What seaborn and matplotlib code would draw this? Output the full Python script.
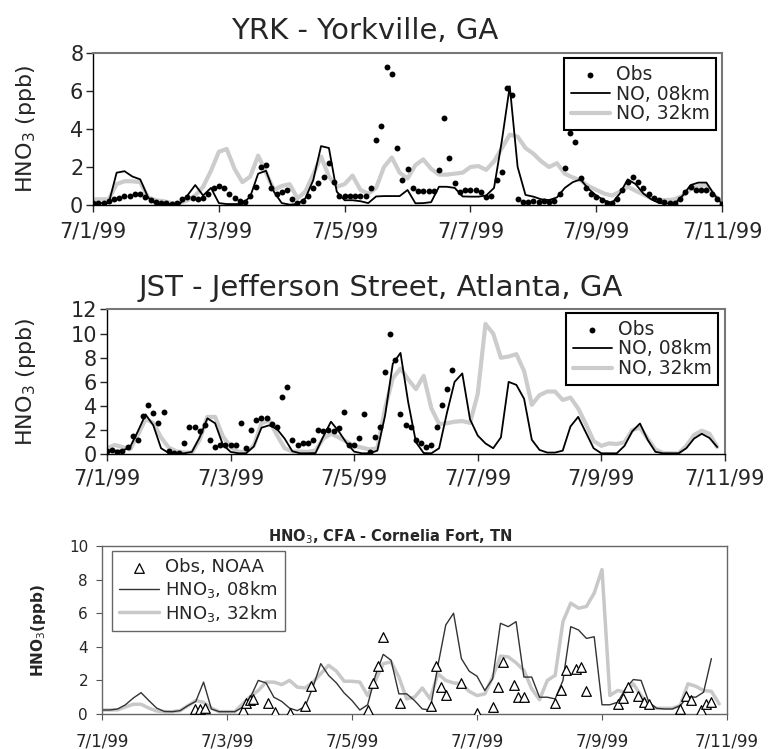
import numpy as np
import matplotlib
matplotlib.use('Agg')
import matplotlib.pyplot as plt
import seaborn as sns

# x axis: days since 7/1/99
tick_days = [0, 2, 4, 6, 8, 10]
tick_labels = ['7/1/99', '7/3/99', '7/5/99', '7/7/99', '7/9/99', '7/11/99']

# YRK - Yorkville, GA (obs every 2 h, model every 3 h)
yrk_obs = [0.1, 0.1, 0.1, 0.2, 0.3, 0.35, 0.45, 0.5, 0.6, 0.6,
           0.4, 0.25, 0.15, 0.1, 0.1, 0.05, 0.1, 0.3, 0.4, 0.35,
           0.3, 0.35, 0.6, 0.88, 1.0, 0.88, 0.6, 0.35, 0.2, 0.18,
           0.5, 0.96, 2.0, 2.1, 0.9, 0.6, 0.7, 0.8, 0.3, 0.1,
           0.2, 0.45, 0.88, 1.15, 1.5, 2.2, 1.2, 0.5, 0.45, 0.47,
           0.47, 0.45, 0.47, 0.9, 3.4, 4.16, 7.25, 6.9, 3.0, 1.3,
           1.9, 0.9, 0.74, 0.74, 0.74, 0.74, 1.84, 4.6, 2.46, 1.14,
           0.7, 0.79, 0.79, 0.8, 0.7, 0.44, 0.45, 1.3, 1.75, 6.14,
           5.8, 0.3, 0.18, 0.18, 0.2, 0.18, 0.2, 0.18, 0.2, 0.6,
           1.93, 3.77, 3.3, 1.4, 0.9, 0.6, 0.4, 0.25, 0.1, 0.1,
           0.3, 0.8, 1.2, 1.45, 1.2, 0.88, 0.6, 0.35, 0.25, 0.15,
           0.12, 0.12, 0.3, 0.7, 0.96, 0.8, 0.8, 0.8, 0.6, 0.3,
           0.05]
yrk_08km = [0.1, 0.1, 0.1, 1.7, 1.78, 1.5, 1.35, 0.4, 0.05, 0.05,
            0.05, 0.05, 0.5, 1.05, 0.5, 0.9, 0.1, 0.05, 0.05, 0.05,
            0.45, 1.65, 1.8, 0.7, 0.1, 0.02, 0.05, 0.35, 1.3, 3.1,
            3.0, 0.7, 0.25, 0.25, 0.2, 0.1, 0.45, 0.47, 0.47, 0.47,
            0.79, 0.09, 0.1, 0.15, 0.96, 0.96, 0.9, 0.45, 0.44, 0.44,
            0.5, 0.9, 3.4, 6.25, 2.0, 0.53, 0.44, 0.3, 0.26, 0.4,
            0.9, 1.2, 1.35, 0.85, 0.5, 0.25, 0.1, 0.6, 1.35, 1.1,
            0.6, 0.3, 0.1, 0.08, 0.08, 0.5, 1.05, 1.18, 1.18, 0.55,
            0.05]
yrk_32km = [0.3, 0.3, 0.3, 1.1, 1.25, 1.25, 1.2, 0.4, 0.25, 0.2,
            0.1, 0.1, 0.25, 0.5, 0.96, 1.8, 2.8, 2.95, 1.9, 1.2,
            1.5, 2.6, 1.7, 0.8, 1.0, 1.1, 0.35, 0.7, 1.6, 2.55,
            1.5, 0.96, 1.1, 1.55, 0.8, 0.6, 0.9, 2.0, 2.5, 1.7,
            1.4, 2.1, 2.4, 1.9, 1.6, 1.6, 1.65, 1.7, 2.0, 2.05,
            1.85, 2.3, 3.0, 3.7, 3.6, 3.0, 2.7, 2.3, 2.0, 2.2,
            1.65, 1.45, 1.3, 1.0, 0.8, 0.6, 0.5, 0.7, 0.96, 0.75,
            0.55, 0.35, 0.26, 0.26, 0.3, 0.5, 0.85, 1.0, 1.05, 0.5,
            0.2]

# JST - Jefferson Street, Atlanta, GA
jst_obs = [0.3, 0.35, 0.2, 0.3, 0.64, 1.5, 1.2, 3.2, 4.1, 3.4,
           2.6, 3.5, 0.3, 0.14, 0.14, 0.9, 2.3, 2.3, 1.9, 2.4,
           1.2, 0.6, 0.77, 0.77, 0.77, 0.77, 2.57, 0.5, 2.0, 2.85,
           3.0, 3.0, 2.5, 2.3, 4.78, 5.6, 1.2, 0.8, 0.9, 0.9,
           1.2, 2.0, 1.9, 2.0, 1.9, 2.15, 3.54, 0.8, 0.77, 1.33,
           3.34, 0.2, 1.46, 2.3, 6.8, 10.0, 7.8, 3.3, 2.4, 2.3,
           1.2, 0.9, 0.64, 0.77, 2.3, 4.1, 5.4, 6.99]
jst_08km = [0.3, 0.3, 0.3, 0.6, 1.9, 3.3, 2.4, 0.5, 0.1, 0.08,
            0.08, 0.2, 1.4, 2.98, 2.57, 0.8, 0.2, 0.08, 0.08, 0.64,
            2.2, 2.4, 2.1, 1.3, 0.25, 0.08, 0.08, 0.1, 1.46, 2.7,
            1.9, 0.95, 0.22, 0.08, 0.08, 0.3, 3.2, 7.5, 8.4, 4.3,
            1.0, 0.1, 0.08, 0.5, 3.4, 6.0, 6.7, 2.9, 1.55, 0.9,
            0.5, 1.4, 6.0, 5.75, 4.6, 1.2, 0.36, 0.14, 0.14, 0.3,
            2.3, 3.1, 1.8, 0.5, 0.08, 0.08, 0.08, 0.7, 1.9, 2.55,
            1.2, 0.2, 0.08, 0.08, 0.08, 0.5, 1.3, 1.7, 1.35, 0.6]
jst_32km = [0.5, 0.77, 0.6, 0.4, 1.6, 2.9, 2.6, 1.4, 0.55, 0.25,
            0.14, 0.14, 1.2, 3.1, 3.1, 1.5, 0.6, 0.22, 0.2, 0.7,
            2.57, 2.8, 1.6, 0.5, 0.22, 0.22, 0.2, 0.3, 1.3, 1.7,
            1.4, 1.05, 0.7, 0.55, 0.4, 0.5, 3.8, 6.3, 7.1, 6.2,
            5.4, 6.5, 3.8, 2.5, 2.57, 2.7, 2.75, 2.6, 5.0, 10.8,
            10.0, 8.0, 8.1, 8.3, 6.9, 4.1, 4.9, 5.2, 5.2, 4.5,
            4.7, 3.8, 2.5, 1.1, 0.7, 0.9, 0.85, 1.0, 2.0, 2.2,
            1.3, 0.4, 0.1, 0.08, 0.08, 0.7, 1.6, 1.95, 1.7, 0.6]

# CFA - Cornelia Fort, TN (model every 3 h, NOAA obs irregular)
cfa_08km = [0.24, 0.24, 0.3, 0.55, 0.95, 1.27, 0.8, 0.35, 0.15, 0.14,
            0.2, 0.5, 0.75, 1.9, 0.3, 0.14, 0.14, 0.14, 0.4, 1.0,
            2.0, 1.85, 1.0, 0.75, 0.35, 0.2, 0.45, 1.6, 3.0, 2.3,
            1.85, 1.25, 0.8, 0.24, 0.55, 2.3, 3.55, 3.2, 1.2, 1.2,
            0.8, 0.3, 0.24, 2.9, 5.3, 6.0, 3.3, 2.55, 2.25, 1.4,
            2.1, 5.4, 5.2, 5.5, 2.2, 2.2, 1.0, 1.0, 0.9, 2.0,
            5.2, 5.0, 4.5, 4.6, 0.55, 0.55, 0.7, 1.5, 2.05, 2.0,
            0.7, 0.34, 0.3, 0.3, 0.5, 1.03, 1.0, 1.3, 3.3]
cfa_32km = [0.24, 0.24, 0.25, 0.42, 0.58, 0.58, 0.35, 0.18, 0.14, 0.14,
            0.2, 0.5, 0.8, 0.7, 0.35, 0.14, 0.14, 0.14, 0.6, 1.05,
            1.4, 1.9, 1.9, 1.75, 2.0, 1.6, 1.55, 1.9, 2.4, 2.9,
            2.55, 1.95, 1.95, 1.9, 1.1, 2.0, 3.0, 3.1, 2.2, 0.9,
            1.0, 1.55, 0.9, 2.4, 2.0, 1.85, 1.8, 1.35, 1.1, 1.2,
            2.2, 3.45, 3.4, 3.05, 2.6, 1.5, 0.85, 2.0, 2.3, 5.5,
            6.6, 6.3, 6.4, 7.2, 8.6, 1.1, 1.4, 1.3, 1.8, 1.1,
            0.55, 0.34, 0.34, 0.34, 0.5, 1.8, 1.65, 1.4, 1.35, 0.6]
cfa_obs_day = [1.49, 1.57, 1.65, 2.25, 2.31, 2.37, 2.42, 2.66, 2.76, 3.00,
               3.25, 3.34, 4.26, 4.34, 4.42, 4.50, 4.76, 5.26, 5.34, 5.42,
               5.50, 5.75, 6.00, 6.25, 6.33, 6.42, 6.59, 6.66, 6.75, 7.25,
               7.35, 7.42, 7.58, 7.67, 7.75, 8.26, 8.34, 8.42, 8.58, 8.67,
               8.75, 9.25, 9.34, 9.42, 9.58, 9.67, 9.75]
cfa_obs = [0.3, 0.3, 0.34, 0.24, 0.67, 0.83, 0.87, 0.63, 0.1, 0.04,
           0.5, 1.68, 0.24, 1.83, 2.84, 4.6, 0.65, 0.46, 2.86, 1.63,
           1.15, 1.83, 0.04, 0.4, 1.63, 3.1, 1.7, 1.0, 1.0, 0.67,
           1.43, 2.62, 2.67, 2.8, 1.35, 0.6, 0.93, 1.6, 1.05, 0.73,
           0.62, 0.32, 1.08, 0.85, 0.22, 0.58, 0.7]

sns.set_style('ticks')
plt.rcParams['font.family'] = ['DejaVu Sans']
plt.rcParams['mathtext.fontset'] = 'dejavusans'

fig = plt.figure(figsize=(7.74, 7.49), dpi=100)


def hours(values, step):
    return np.arange(len(values)) * step / 24.0


def top_panel(ax, title, title_x, obs, fine, coarse, ymax, xpad):
    sns.lineplot(x=hours(coarse, 3), y=coarse, ax=ax, color='#cccccc', lw=3,
                 label='NO, 32km', errorbar=None)
    sns.lineplot(x=hours(fine, 3), y=fine, ax=ax, color='black', lw=1.3,
                 label='NO, 08km', errorbar=None)
    sns.scatterplot(x=hours(obs, 2), y=obs, ax=ax, color='black', s=18,
                    linewidth=0, label='Obs', zorder=3)
    ax.set_xlim(0, 10)
    ax.set_ylim(0, ymax)
    ax.set_yticks(range(0, ymax + 1, 2))
    ax.set_xticks(tick_days)
    ax.set_xticklabels(tick_labels)
    ax.tick_params(labelsize=15, length=5, width=1, direction='out', pad=2)
    ax.tick_params(axis='x', pad=xpad)
    ax.set_title(title, fontsize=21, pad=10, x=title_x)
    ax.set_xlabel('')
    ax.set_ylabel('HNO$_3$ (ppb)', fontsize=16)
    for side in ['top', 'right']:
        ax.spines[side].set_color('#777777')
        ax.spines[side].set_linewidth(1.5)
    for side in ['left', 'bottom']:
        ax.spines[side].set_color('black')
        ax.spines[side].set_linewidth(1.0)
    h, l = ax.get_legend_handles_labels()
    order = [l.index(name) for name in ['Obs', 'NO, 08km', 'NO, 32km']]
    return [h[i] for i in order], [l[i] for i in order]


ax1 = fig.add_axes([0.1202, 0.7263, 0.8127, 0.2029])
h, l = top_panel(ax1, 'YRK - Yorkville, GA', 0.432, yrk_obs, yrk_08km,
                 yrk_32km, 8, 7)
leg = ax1.legend(h, l, loc='upper right', bbox_to_anchor=(0.9905, 0.967),
                 borderaxespad=0, fancybox=False, edgecolor='black',
                 framealpha=1, fontsize=13.5, handlelength=2.1,
                 handletextpad=0.3, borderpad=0.35, labelspacing=0.05,
                 scatterpoints=1)
leg.get_frame().set_linewidth(1.5)
ax1.yaxis.set_label_coords(-0.087, 0.5)

ax2 = fig.add_axes([0.1382, 0.3935, 0.7984, 0.1933])
h, l = top_panel(ax2, 'JST - Jefferson Street, Atlanta, GA', 0.443, jst_obs,
                 jst_08km, jst_32km, 12, 5)
leg = ax2.legend(h, l, loc='upper right', bbox_to_anchor=(0.9887, 0.976),
                 borderaxespad=0, fancybox=False, edgecolor='black',
                 framealpha=1, fontsize=13.5, handlelength=2.1,
                 handletextpad=0.3, borderpad=0.35, labelspacing=0.05,
                 scatterpoints=1)
leg.get_frame().set_linewidth(1.5)
ax2.yaxis.set_label_coords(-0.112, 0.5)

# bottom panel
ax3 = fig.add_axes([0.1318, 0.0467, 0.8075, 0.2243])
sns.lineplot(x=hours(cfa_32km, 3), y=cfa_32km, ax=ax3, color='#c8c8c8', lw=2.5,
             label='HNO$_3$, 32km', errorbar=None)
sns.lineplot(x=hours(cfa_08km, 3), y=cfa_08km, ax=ax3, color='#333333', lw=1.0,
             label='HNO$_3$, 08km', errorbar=None)
sns.scatterplot(x=cfa_obs_day, y=cfa_obs, ax=ax3, marker='^', s=48,
                color='white', edgecolor='black', linewidth=0.9,
                label='Obs, NOAA', zorder=3)
ax3.set_xlim(0, 10)
ax3.set_ylim(0, 10)
ax3.set_yticks(range(0, 11, 2))
ax3.set_xticks(tick_days)
ax3.set_xticklabels(tick_labels)
ax3.tick_params(axis='x', labelsize=12, length=4, width=0.8, color='#555555', pad=9)
ax3.tick_params(axis='y', labelsize=11, length=4, width=0.8, color='#555555', pad=6)
ax3.set_title('HNO$_3$, CFA - Cornelia Fort, TN', fontsize=10.5,
              fontweight='bold', pad=3, x=0.461)
ax3.set_xlabel('')
ax3.set_ylabel('HNO$_3$(ppb)', fontsize=11, fontweight='bold')
ax3.yaxis.set_label_coords(-0.086, 0.5)
for side in ax3.spines:
    ax3.spines[side].set_color('#666666')
    ax3.spines[side].set_linewidth(1.0)
h, l = ax3.get_legend_handles_labels()
order = [l.index(name) for name in ['Obs, NOAA', 'HNO$_3$, 08km', 'HNO$_3$, 32km']]
leg = ax3.legend([h[i] for i in order], [l[i] for i in order], loc='upper left',
                 bbox_to_anchor=(0.016, 0.97), borderaxespad=0, fancybox=False,
                 edgecolor='#666666', framealpha=1, fontsize=13,
                 handlelength=2.2, handletextpad=0.35, borderpad=0.4,
                 labelspacing=0.15, scatterpoints=1)
leg.get_frame().set_linewidth(1.0)

fig.savefig('out.png', dpi=100)
